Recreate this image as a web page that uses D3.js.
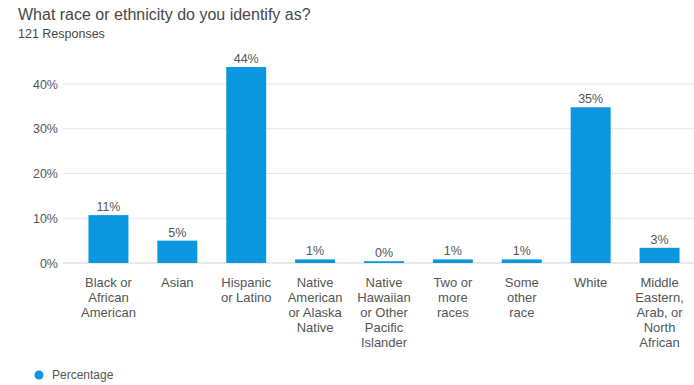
<!DOCTYPE html>
<html>
<head>
<meta charset="utf-8">
<script src="https://cdn.jsdelivr.net/npm/d3@7"></script>
<style>
  body { margin: 0; background: #fff; }
  svg { font-family: "Liberation Sans", Arial, sans-serif; }
</style>
</head>
<body>
<div class="chart"></div>
<script>
// data (share of 121 responses)
var categories = [
  ["Black or", "African", "American"],
  ["Asian"],
  ["Hispanic", "or Latino"],
  ["Native", "American", "or Alaska", "Native"],
  ["Native", "Hawaiian", "or Other", "Pacific", "Islander"],
  ["Two or", "more", "races"],
  ["Some", "other", "race"],
  ["White"],
  ["Middle", "Eastern,", "Arab, or", "North", "African"]
];
var percentages = [10.7, 5.0, 43.8, 0.8, 0.4, 0.8, 0.8, 34.8, 3.4];
var yTicks = [0, 10, 20, 30, 40];
var seriesName = "Percentage";

var svgWidth = 694;
var svgHeight = 385;

var margin = { top: 63, right: 0, bottom: 122, left: 74 };
var width = svgWidth - margin.left - margin.right;
var height = svgHeight - margin.top - margin.bottom;

var svg = d3.select(".chart")
  .append("svg")
  .attr("width", svgWidth)
  .attr("height", svgHeight);

// title + subtitle
svg.append("text")
  .attr("x", 18)
  .attr("y", 20)
  .attr("font-size", 16)
  .attr("fill", "#474747")
  .text("What race or ethnicity do you identify as?");

svg.append("text")
  .attr("x", 18)
  .attr("y", 38)
  .attr("font-size", 12.5)
  .attr("fill", "#474747")
  .text("121 Responses");

var chartGroup = svg.append("g")
  .attr("transform", `translate(${margin.left}, ${margin.top})`);

var xScale = d3.scaleBand()
  .domain(d3.range(categories.length))
  .range([0, width])
  .paddingInner(0.42)
  .paddingOuter(0.21);

var yScale = d3.scaleLinear()
  .domain([0, 40])
  .range([height, height - 179]);

// gridlines
chartGroup.append("g")
  .selectAll("line")
  .data(yTicks)
  .enter()
  .append("line")
  .attr("x1", -11)
  .attr("x2", width)
  .attr("y1", d => yScale(d))
  .attr("y2", d => yScale(d))
  .attr("stroke", d => d === 0 ? "#d4d4d4" : "#e6e6e6")
  .attr("stroke-width", 1);

// y axis labels
var leftAxis = d3.axisLeft(yScale)
  .tickValues(yTicks)
  .tickFormat(d => d + "%")
  .tickSize(0)
  .tickPadding(16);

var yAxis = chartGroup.append("g").call(leftAxis);
yAxis.select(".domain").remove();
yAxis.selectAll("text")
  .attr("font-size", 12.5)
  .attr("font-family", "Liberation Sans, Arial, sans-serif")
  .attr("fill", "#555");

// bars
chartGroup.selectAll("rect")
  .data(percentages)
  .enter()
  .append("rect")
  .attr("x", (d, i) => xScale(i))
  .attr("y", d => yScale(d))
  .attr("width", xScale.bandwidth())
  .attr("height", d => height - yScale(d))
  .attr("fill", "#0b97e0");

// value labels
chartGroup.selectAll(".valueText")
  .data(percentages)
  .enter()
  .append("text")
  .attr("class", "valueText")
  .attr("x", (d, i) => xScale(i) + xScale.bandwidth() / 2)
  .attr("y", d => yScale(d) - 4)
  .attr("text-anchor", "middle")
  .attr("font-size", 12.5)
  .attr("fill", "#555")
  .text(d => Math.round(d) + "%");

// category labels, one tspan per line
var catLabels = chartGroup.selectAll(".catText")
  .data(categories)
  .enter()
  .append("text")
  .attr("class", "catText")
  .attr("text-anchor", "middle")
  .attr("font-size", 13)
  .attr("fill", "#555")
  .attr("transform", (d, i) => `translate(${xScale(i) + xScale.bandwidth() / 2}, ${height + 24})`);

catLabels.selectAll("tspan")
  .data(d => d)
  .enter()
  .append("tspan")
  .attr("x", 0)
  .attr("y", (d, j) => j * 15)
  .text(d => d);

// legend
var legend = svg.append("g")
  .attr("transform", "translate(39, 375)");

legend.append("circle")
  .attr("r", 4.5)
  .attr("fill", "#0b97e0");

legend.append("text")
  .attr("x", 13)
  .attr("y", 4)
  .attr("font-size", 12)
  .attr("fill", "#555")
  .text(seriesName);
</script>
</body>
</html>
